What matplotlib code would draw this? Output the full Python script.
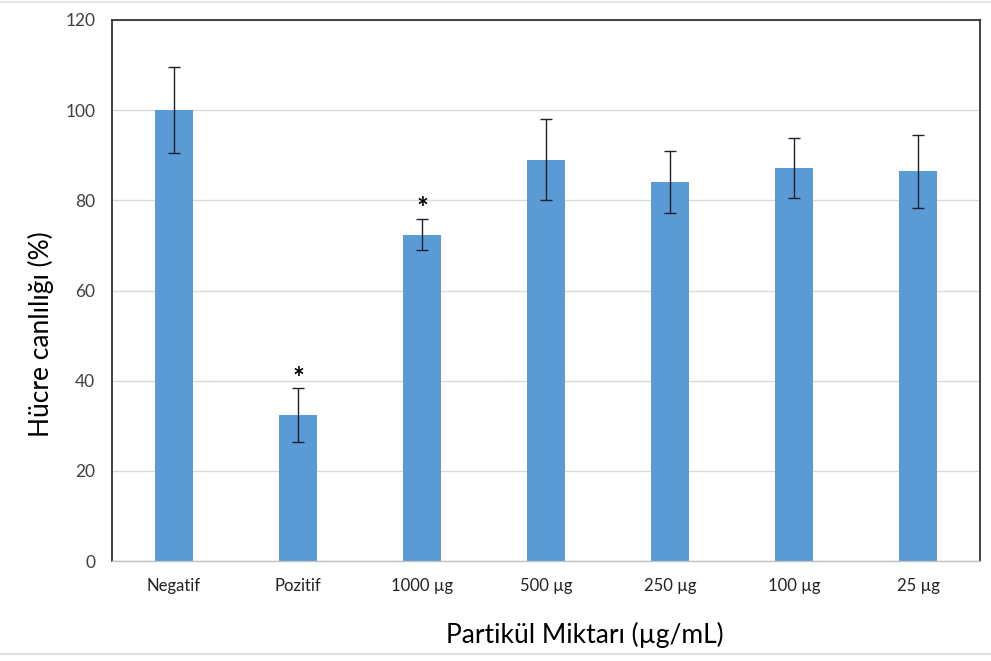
import numpy as np
import matplotlib.pyplot as plt
from matplotlib.lines import Line2D

plt.rcParams['font.family'] = ['Lato', 'DejaVu Sans']

groups = ['Negatif', 'Pozitif', '1000 µg', '500 µg', '250 µg', '100 µg', '25 µg']
viability = [100.0, 32.4, 72.4, 89.0, 84.0, 87.1, 86.4]
errors = [9.6, 6.0, 3.5, 9.0, 6.9, 6.6, 8.0]
significant = [False, True, True, False, False, False, False]

fig = plt.figure(figsize=(9.91, 6.61), dpi=100)
ax = fig.add_axes([0.113, 0.151, 0.876, 0.819])

x = np.arange(len(groups))
ax.bar(x, viability, width=0.31, color='#5B9BD5', zorder=2)
ax.errorbar(x, viability, yerr=errors, fmt='none', ecolor='#1f1f2e',
            elinewidth=1.0, capsize=4, capthick=1.0, zorder=3)

for xi, v, e, s in zip(x, viability, errors, significant):
    if s:
        ax.text(xi, v + e - 0.8, '*', ha='center', va='bottom', fontsize=20,
                fontweight='bold', color='black')

ax.set_xlim(-0.5, len(groups) - 0.5)
ax.set_ylim(0, 120)
ax.set_yticks(np.arange(0, 121, 20))
ax.set_xticks(x)
ax.set_xticklabels(groups, fontsize=12, color='#222222')
ax.tick_params(axis='y', labelsize=12.5, colors='#404040', length=0, pad=12)
ax.tick_params(axis='x', length=0, pad=12)
ax.grid(axis='y', color='#D9D9D9', linewidth=1.0, zorder=0)
ax.set_axisbelow(True)

for side in ['left', 'top', 'right']:
    ax.spines[side].set_color('#333333')
    ax.spines[side].set_linewidth(1.3)
ax.spines['bottom'].set_color('#BFBFBF')
ax.spines['bottom'].set_linewidth(1.0)

ax.set_ylabel('Hücre canlılığı (%)', fontsize=19, color='black', labelpad=8, y=0.42)
ax.set_xlabel('Partikül Miktarı (µg/mL)', fontsize=19, color='black', labelpad=20, x=0.545)

# light frame around the figure
fig.add_artist(Line2D([0, 1], [0.997, 0.997], color='#E6E6E6', lw=1.5, transform=fig.transFigure))
fig.add_artist(Line2D([0, 1], [0.01, 0.01], color='#E0E0E0', lw=1.5, transform=fig.transFigure))

fig.savefig('out.png', dpi=100)
